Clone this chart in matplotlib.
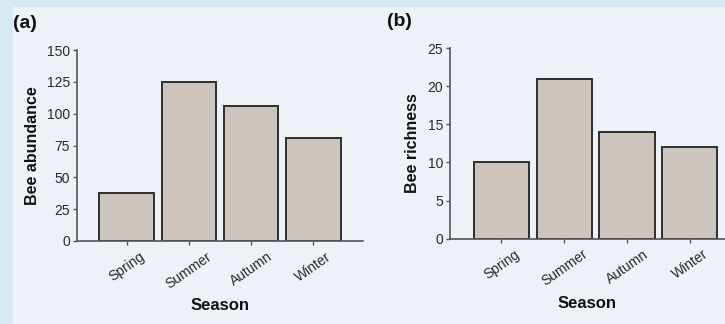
import matplotlib
matplotlib.use("Agg")
import matplotlib.pyplot as plt
from matplotlib.patches import Rectangle

seasons = ["Spring", "Summer", "Autumn", "Winter"]
abundance = [38, 125, 106, 81]
richness = [10, 21, 14, 12]
abund_ticks = [0, 25, 50, 75, 100, 125, 150]
rich_ticks = [0, 5, 10, 15, 20, 25]

plt.rcParams['font.family'] = ['Liberation Sans', 'DejaVu Sans']

outer = "#d5eaf0"
inner = "#edf2f9"
bar_col = "#cdc4bd"
edge = "#2e2e2e"

fig = plt.figure(figsize=(7.25, 3.24), dpi=100)
fig.patch.set_facecolor(outer)
fig.add_artist(Rectangle((13/725, 0), 1, 1 - 7/324, transform=fig.transFigure,
                         facecolor=inner, edgecolor="none", zorder=0))

def panel(rect, vals, ticks, ylabel, tag, xlim, tagpos):
    ax = fig.add_axes(rect)
    ax.set_facecolor("none")
    x = range(len(seasons))
    ax.bar(x, vals, width=0.88, color=bar_col, edgecolor=edge, linewidth=1.4, zorder=2)
    ax.set_xlim(*xlim)
    ax.set_ylim(ticks[0], ticks[-1])
    ax.set_yticks(ticks)
    ax.set_yticklabels([str(t) for t in ticks], fontsize=10, color="#2a2a2a")
    ax.set_xticks(list(x))
    ax.set_xticklabels(seasons, rotation=35, ha="center", va="top", fontsize=10, color="#2a2a2a")
    for s in ["top", "right"]:
        ax.spines[s].set_visible(False)
    for s in ["left", "bottom"]:
        ax.spines[s].set_color("#555555")
        ax.spines[s].set_linewidth(1.2)
    ax.tick_params(axis="y", length=3, width=1, color="#555555", pad=2)
    ax.tick_params(axis="x", length=3, width=1, color="#555555", pad=3)
    ax.set_ylabel(ylabel, fontsize=11.5, fontweight="bold", color="#111111", labelpad=5)
    ax.set_xlabel("Season", fontsize=12, fontweight="bold", color="#111111", labelpad=5)
    fig.text(tagpos[0], tagpos[1], tag, fontsize=14, fontweight="bold", color="#111111",
             ha="left", va="center")
    return ax

panel([77/725, 1 - 241/324, (363 - 77)/725, (241 - 50)/324], abundance, abund_ticks,
      "Bee abundance", "(a)", (-0.80, 3.80), (13/725, 1 - 23/324))
panel([450/725, 1 - 238.7/324, (725 - 450)/725, (238.7 - 48)/324], richness, rich_ticks,
      "Bee richness", "(b)", (-0.82, 3.56), (387/725, 1 - 22/324))

fig.savefig("out.png", dpi=100, facecolor=fig.get_facecolor())
